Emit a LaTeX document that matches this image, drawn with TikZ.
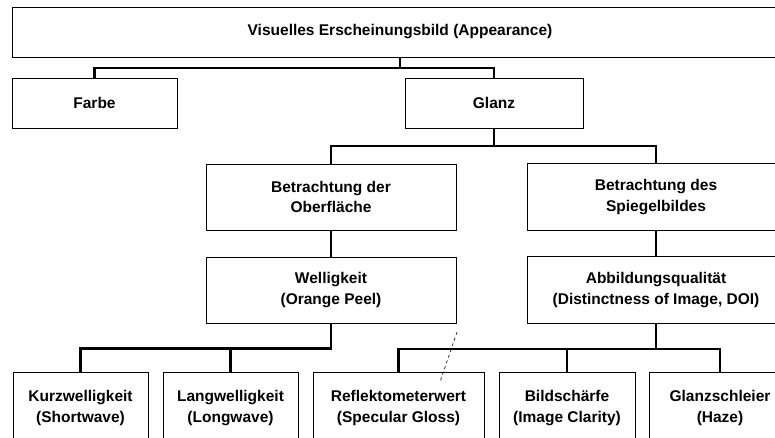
\documentclass[tikz,border=0pt]{standalone}
\usepackage{fontspec}
\setmainfont{Liberation Sans}
\usetikzlibrary{positioning}

\begin{document}
\begin{tikzpicture}[x=1pt,y=1pt,
	box/.style={draw,line width=0.8pt,align=center,inner sep=0pt,
		font=\fontsize{15.5}{20.5}\selectfont\bfseries},
	conn/.style={line width=2.2pt}]
	\path[use as bounding box,clip] (0,0) rectangle (775,437);
	\node[box,minimum width=776,minimum height=50] (app) at (400,405) {Visuelles Erscheinungsbild (Appearance)};
	\node[box,minimum width=165,minimum height=50] (farbe) at (94.5,334) {Farbe};
	\node[box,minimum width=178,minimum height=50] (glanz) at (494,334) {Glanz};
	\node[box,minimum width=250,minimum height=66] (ober) at (331,240) {Betrachtung der\\Oberfläche};
	\node[box,minimum width=258,minimum height=67] (spiegel) at (656,240) {Betrachtung des\\Spiegelbildes};
	\node[box,minimum width=250,minimum height=66] (well) at (331,147) {Welligkeit\\(Orange Peel)};
	\node[box,minimum width=258,minimum height=67] (abb) at (656,147) {Abbildungsqualität\\(Distinctness of Image, DOI)};
	\node[box,minimum width=135,minimum height=72] (kurz) at (80.5,29) {Kurzwelligkeit\\(Shortwave)};
	\node[box,minimum width=135,minimum height=72] (lang) at (230.5,29) {Langwelligkeit\\(Longwave)};
	\node[box,minimum width=171,minimum height=72] (refl) at (398.5,29) {Reflektometerwert\\(Specular Gloss)};
	\node[box,minimum width=136,minimum height=72] (bild) at (567,29) {Bildschärfe\\(Image Clarity)};
	\node[box,minimum width=142,minimum height=72] (haze) at (720,29) {Glanzschleier\\(Haze)};
	\draw[conn] (app.south) -- ++(0,-11) -| (farbe.north);
	\draw[conn] (app.south) -- ++(0,-11) -| (glanz.north);
	\draw[conn] (glanz.south) -- ++(0,-18) -| (ober.north);
	\draw[conn] (glanz.south) -- ++(0,-18) -| (spiegel.north);
	\draw[conn] (ober) -- (well);
	\draw[conn] (spiegel) -- (abb);
	\draw[conn] (well.south) -- ++(0,-25) -| (kurz.north);
	\draw[conn] (well.south) -- ++(0,-25) -| (lang.north);
	\draw[conn] (abb.south) -- ++(0,-25) -| (refl.north);
	\draw[conn] (abb.south) -- ++(0,-25) -| (bild.north);
	\draw[conn] (abb.south) -- ++(0,-25) -| (haze.north);
	\draw[dashed,line width=0.6pt] (457,105) -- (440,55);
\end{tikzpicture}
\end{document}
